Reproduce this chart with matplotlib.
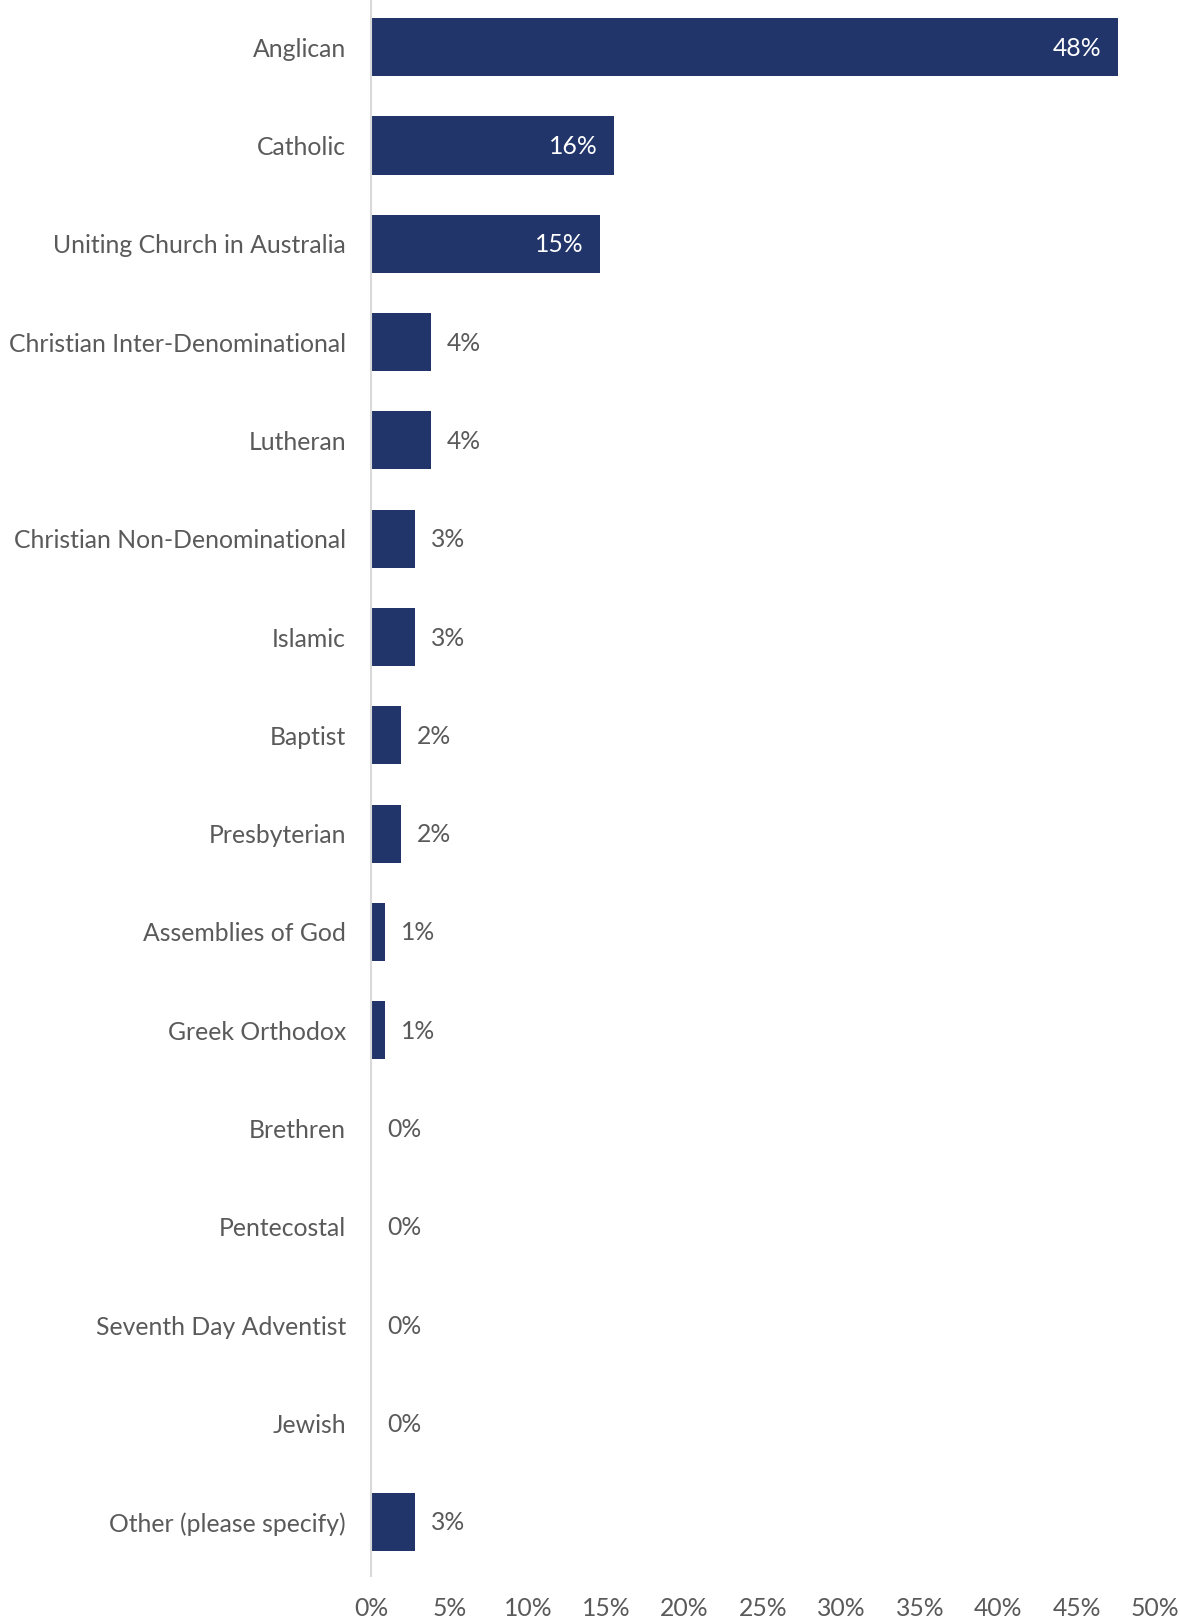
import matplotlib
matplotlib.use("Agg")
import matplotlib.pyplot as plt
from matplotlib.ticker import FuncFormatter, MultipleLocator

categories = [
    "Anglican",
    "Catholic",
    "Uniting Church in Australia",
    "Christian Inter-Denominational",
    "Lutheran",
    "Christian Non-Denominational",
    "Islamic",
    "Baptist",
    "Presbyterian",
    "Assemblies of God",
    "Greek Orthodox",
    "Brethren",
    "Pentecostal",
    "Seventh Day Adventist",
    "Jewish",
    "Other (please specify)",
]
shares = [47.6, 15.5, 14.6, 3.8, 3.8, 2.8, 2.8, 1.9, 1.9, 0.9, 0.9,
          0.0, 0.0, 0.0, 0.0, 2.8]

BAR = "#21356A"
TEXT = "#5A5A5A"
FS = 17.8
plt.rcParams["font.family"] = ["Lato", "DejaVu Sans"]
plt.rcParams["font.weight"] = "normal"

fig = plt.figure(figsize=(11.8, 16.2), dpi=100)
ax = fig.add_axes([0.3144, 0.0272, 0.979 - 0.3144, 0.9728])

ypos = list(range(len(categories)))
ax.barh(ypos, shares, height=0.59, color=BAR, zorder=2)

ax.set_xlim(0, 50)
ax.set_ylim(15.55, -0.48)
ax.xaxis.set_major_locator(MultipleLocator(5))
ax.xaxis.set_major_formatter(FuncFormatter(lambda v, p: f"{v:.0f}%"))
ax.set_yticks(ypos)
ax.set_yticklabels(categories)

ax.tick_params(axis="y", length=0, pad=18, labelsize=FS, labelcolor=TEXT)
ax.tick_params(axis="x", length=0, pad=15, labelsize=FS, labelcolor=TEXT)

for side in ("top", "right", "bottom"):
    ax.spines[side].set_visible(False)
ax.spines["left"].set_color("#D9D9D9")
ax.spines["left"].set_linewidth(1.5)
ax.spines["left"].set_zorder(3)

for y, v in zip(ypos, shares):
    label = f"{v:.0f}%"
    if v >= 10:
        ax.annotate(label, (v, y), xytext=(-16, -1), textcoords="offset pixels",
                    ha="right", va="center", color="white", fontsize=FS)
    else:
        ax.annotate(label, (v, y), xytext=(16, -1), textcoords="offset pixels",
                    ha="left", va="center", color=TEXT, fontsize=FS)

fig.savefig("out.png", dpi=100, facecolor="white")
